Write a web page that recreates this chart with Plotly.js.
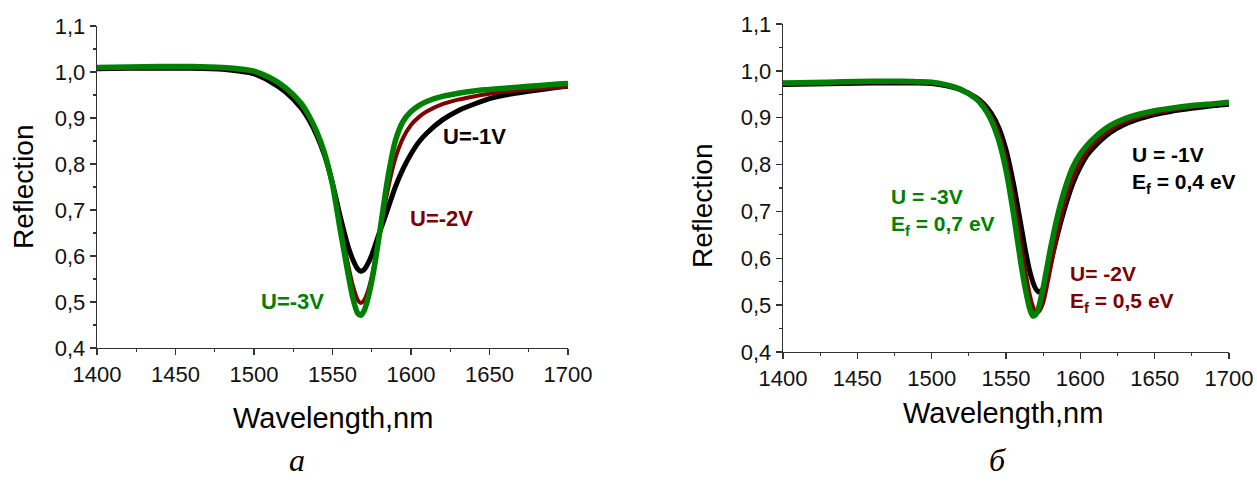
<!DOCTYPE html>
<html>
<head>
<meta charset="utf-8">
<script src="https://cdn.plot.ly/plotly-3.0.1.min.js"></script>
<style>html,body{margin:0;padding:0;background:#fff}#chart{width:1257px;height:497px}</style>
</head>
<body>
<div id="chart"></div>
<script>
// ---- data ----
const wavelength = [1400,1420,1440,1460,1480,1490,1500,1510,1520,1530,1535,1540,1545,1550,1555,1560,1563,1566,1568,1570,1572,1575,1578,1580,1585,1590,1595,1600,1605,1610,1620,1630,1640,1650,1660,1675,1690,1700];

// panel а
const a_U1 = [1.007,1.008,1.008,1.008,1.006,1.002,0.996,0.980,0.957,0.922,0.896,0.862,0.818,0.758,0.685,0.620,0.592,0.572,0.567,0.570,0.580,0.602,0.632,0.652,0.700,0.750,0.790,0.822,0.848,0.867,0.896,0.916,0.930,0.942,0.950,0.958,0.965,0.969];
const a_U2 = [1.008,1.009,1.010,1.010,1.008,1.005,1.000,0.986,0.964,0.930,0.903,0.868,0.822,0.757,0.665,0.580,0.535,0.505,0.498,0.503,0.518,0.555,0.608,0.645,0.740,0.812,0.857,0.885,0.902,0.914,0.930,0.940,0.947,0.953,0.957,0.962,0.966,0.968];
const a_U3 = [1.010,1.011,1.012,1.012,1.010,1.007,1.002,0.988,0.966,0.932,0.905,0.870,0.823,0.755,0.655,0.560,0.508,0.476,0.471,0.480,0.500,0.545,0.605,0.650,0.765,0.850,0.893,0.914,0.927,0.936,0.947,0.954,0.959,0.962,0.965,0.969,0.973,0.975];

// panel б
const b_U1 = [0.971,0.972,0.973,0.974,0.974,0.974,0.973,0.968,0.959,0.943,0.930,0.910,0.880,0.832,0.760,0.672,0.618,0.572,0.550,0.535,0.528,0.535,0.565,0.590,0.655,0.712,0.760,0.795,0.822,0.840,0.868,0.886,0.898,0.907,0.913,0.920,0.926,0.929];
const b_U2 = [0.972,0.974,0.975,0.976,0.976,0.976,0.975,0.970,0.961,0.943,0.928,0.904,0.868,0.812,0.730,0.632,0.573,0.522,0.498,0.486,0.486,0.505,0.548,0.580,0.660,0.725,0.772,0.806,0.830,0.848,0.874,0.891,0.902,0.910,0.916,0.923,0.928,0.931];
const b_U3 = [0.974,0.975,0.977,0.978,0.978,0.977,0.976,0.970,0.960,0.940,0.922,0.895,0.853,0.788,0.696,0.590,0.535,0.492,0.477,0.480,0.495,0.537,0.588,0.622,0.695,0.752,0.795,0.823,0.843,0.859,0.883,0.898,0.908,0.915,0.920,0.926,0.930,0.933];

const labelsA = ["U=-1V","U=-2V","U=-3V"];
const labelsB = ["U = -1V<br>E<sub>f</sub> = 0,4 eV","U= -2V<br>E<sub>f</sub> = 0,5 eV","U = -3V<br>E<sub>f</sub> = 0,7 eV"];
const panelLetters = ["а","б"];
const xTitle = "Wavelength,nm";
const yTitle = "Reflection";

// ---- styling ----
const BLACK = "#000000", RED = "#800000", GREEN = "#008000";
const W = 1257, H = 497;
const px = v => v / W;
const py = v => 1 - v / H;
const SANS = "Liberation Sans, Arial, sans-serif";

function tr(x, y, color, width, xa, ya) {
  return {x: x, y: y, type: "scatter", mode: "lines", xaxis: xa, yaxis: ya,
          line: {color: color, width: width, shape: "spline", smoothing: 0.7},
          hoverinfo: "skip"};
}
const traces = [
  tr(wavelength, a_U1, BLACK, 5, "x", "y"),
  tr(wavelength, a_U2, RED, 4, "x", "y"),
  tr(wavelength, a_U3, GREEN, 5.5, "x", "y"),
  tr(wavelength, b_U1, BLACK, 5, "x2", "y2"),
  tr(wavelength, b_U2, RED, 4, "x2", "y2"),
  tr(wavelength, b_U3, GREEN, 5.5, "x2", "y2")
];

const axColor = "#333333";
function xaxis(domain, anchor) {
  return {domain: domain, anchor: anchor, range: [1400, 1700], tick0: 1400, dtick: 50,
          ticks: "outside", ticklen: 6, tickwidth: 1.3, tickcolor: axColor,
          showline: true, linecolor: axColor, linewidth: 1.3, mirror: false,
          showgrid: false, zeroline: false, automargin: false,
          tickfont: {family: SANS, size: 22, color: "#111"},
          minor: {ticks: "outside", ticklen: 3, tickwidth: 1.2, tickcolor: axColor, dtick: 25, showgrid: false}};
}
function yaxis(domain, anchor) {
  return {domain: domain, anchor: anchor, range: [0.4, 1.1001], tick0: 0.4, dtick: 0.1, tickformat: ".1f",
          ticks: "outside", ticklen: 6, tickwidth: 1.3, tickcolor: axColor,
          showline: true, linecolor: axColor, linewidth: 1.3, mirror: false,
          showgrid: false, zeroline: false, automargin: false,
          tickfont: {family: SANS, size: 22, color: "#111"},
          minor: {ticks: "outside", ticklen: 3, tickwidth: 1.2, tickcolor: axColor, dtick: 0.05, showgrid: false}};
}

function ann(text, x, y, opts) {
  return Object.assign({text: text, x: px(x), y: py(y), xref: "paper", yref: "paper",
          showarrow: false, xanchor: "center", yanchor: "middle"}, opts);
}
const titleFont = {family: SANS, size: 28, color: "#000"};
const boldFont = c => ({family: SANS, size: 22, color: c});
const boldFont2 = c => ({family: SANS, size: 21, color: c});
const letterFont = {family: "Liberation Serif, Times New Roman, serif", size: 32, color: "#000", style: "italic"};

const annotations = [
  ann(xTitle, 333, 418, {font: Object.assign({}, titleFont, {size: 29})}),
  ann(xTitle, 1003, 413, {font: Object.assign({}, titleFont, {size: 29})}),
  ann(yTitle, 23, 187, {font: titleFont, textangle: -90}),
  ann(yTitle, 702, 206, {font: titleFont, textangle: -90}),
  ann("<b>" + labelsA[0] + "</b>", 441, 137, {xanchor: "left", font: boldFont(BLACK)}),
  ann("<b>" + labelsA[1] + "</b>", 408, 218, {xanchor: "left", font: boldFont(RED)}),
  ann("<b>" + labelsA[2] + "</b>", 259, 301, {xanchor: "left", font: boldFont(GREEN)}),
  ann("<b>" + labelsB[0] + "</b>", 1130, 170, {xanchor: "left", align: "left", font: boldFont2(BLACK)}),
  ann("<b>" + labelsB[1] + "</b>", 1068, 289, {xanchor: "left", align: "left", font: boldFont2(RED)}),
  ann("<b>" + labelsB[2] + "</b>", 889, 212, {xanchor: "left", align: "left", font: boldFont2(GREEN)}),
  ann(panelLetters[0], 297, 460, {font: letterFont}),
  ann(panelLetters[1], 997, 460, {font: letterFont})
];

const layout = {
  width: W, height: H, margin: {l: 0, r: 0, t: 0, b: 0, pad: 0},
  paper_bgcolor: "#fff", plot_bgcolor: "#fff", showlegend: false,
  separators: ", ",
  xaxis: xaxis([px(97), px(568)], "y"),
  yaxis: yaxis([1 - 348 / H, 1 - 26 / H], "x"),
  xaxis2: xaxis([px(783), px(1229)], "y2"),
  yaxis2: yaxis([1 - 352 / H, 1 - 24 / H], "x2"),
  annotations: annotations
};

Plotly.newPlot("chart", traces, layout, {staticPlot: true, displayModeBar: false});
</script>
</body>
</html>
